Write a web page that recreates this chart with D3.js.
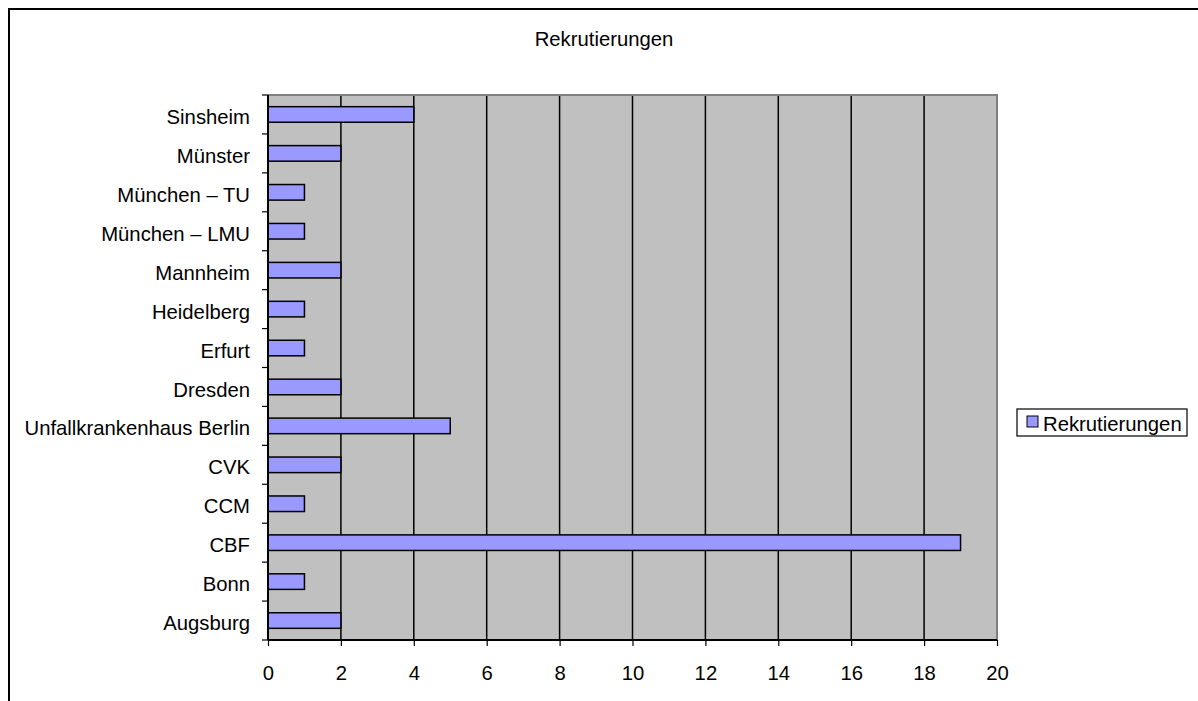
<!DOCTYPE html>
<html><head><meta charset="utf-8">
<script src="https://cdn.jsdelivr.net/npm/d3@7"></script>
<style>body{margin:0;background:#fff;}svg{display:block;font-family:"Liberation Sans",Arial,sans-serif;}</style>
</head><body>
<svg id="c" width="1198" height="701"></svg>
<script>
const categories = ["Sinsheim","Münster","München – TU","München – LMU","Mannheim","Heidelberg","Erfurt","Dresden","Unfallkrankenhaus Berlin","CVK","CCM","CBF","Bonn","Augsburg"];
const values = [4,2,1,1,2,1,1,2,5,2,1,19,1,2];
const xTicks = [0,2,4,6,8,10,12,14,16,18,20];
const seriesName = "Rekrutierungen";
const title = "Rekrutierungen";

const svg = d3.select("#c");
const L = 268, R = 997, T = 95, B = 640;
const FS = 20.3;

svg.append("rect").attr("x",9).attr("y",9).attr("width",1300).attr("height",800)
  .attr("fill","#fff").attr("stroke","#000").attr("stroke-width",2);

svg.append("text").attr("x",604).attr("y",46).attr("text-anchor","middle")
  .attr("font-size",FS).text(title);

const x = d3.scaleLinear().domain([0,20]).range([L,R]);
const y = d3.scaleBand().domain(categories).range([T,B]).paddingInner(0).paddingOuter(0);

svg.append("rect").attr("x",L).attr("y",T).attr("width",R-L).attr("height",B-T).attr("fill","#C0C0C0");

// gridlines
svg.append("g").selectAll("line").data(xTicks.filter(d=>d>0 && d<20)).join("line")
  .attr("x1",d=>x(d)).attr("x2",d=>x(d)).attr("y1",T).attr("y2",B)
  .attr("stroke","#000").attr("stroke-width",1.5);

// plot border top/right gray
svg.append("path").attr("d",`M${L},${T}H${R}V${B}`).attr("fill","none").attr("stroke","#808080").attr("stroke-width",2);

// bars
const bh = y.bandwidth()*0.4;
svg.append("g").selectAll("rect").data(categories).join("rect")
  .attr("x",x(0)).attr("y",(d)=>y(d)+y.bandwidth()/2-bh/2)
  .attr("width",(d,i)=>x(values[i])-x(0)).attr("height",bh)
  .attr("fill","#9999FF").attr("stroke","#000").attr("stroke-width",1.5);

// axes
const xAxis = d3.axisBottom(x).tickValues(xTicks).tickSize(6).tickPadding(20);
const gx = svg.append("g").attr("transform",`translate(0,${B})`).call(xAxis);
gx.selectAll("text").attr("font-size",FS).attr("fill","#000").attr("font-family","Liberation Sans, Arial, sans-serif");
gx.selectAll("line").attr("stroke","#000").attr("stroke-width",1.2);
gx.select(".domain").attr("stroke","#000").attr("stroke-width",2).attr("d",`M${L},0H${R}`);

const gy = svg.append("g").attr("transform",`translate(${L},0)`).call(d3.axisLeft(y).tickSize(0).tickPadding(18));
gy.selectAll("text").attr("font-size",FS).attr("fill","#000").attr("dy","0.47em").attr("font-family","Liberation Sans, Arial, sans-serif");
gy.select(".domain").attr("stroke","#000").attr("stroke-width",2).attr("d",`M0,${T}V${B}`);
// band boundary ticks
const bounds = categories.map(c=>y(c)).concat([B]);
svg.append("g").selectAll("line").data(bounds).join("line")
  .attr("x1",L-6).attr("x2",L).attr("y1",d=>d).attr("y2",d=>d)
  .attr("stroke","#000").attr("stroke-width",1.2);

// legend
const lg = svg.append("g");
lg.append("rect").attr("x",1017).attr("y",409).attr("width",170).attr("height",27)
  .attr("fill","#fff").attr("stroke","#000").attr("stroke-width",1.2);
lg.append("rect").attr("x",1027).attr("y",416).attr("width",11).attr("height",11)
  .attr("fill","#9999FF").attr("stroke","#000").attr("stroke-width",1);
lg.append("text").attr("x",1043).attr("y",431).attr("font-size",FS).text(seriesName);
</script>
</body></html>
